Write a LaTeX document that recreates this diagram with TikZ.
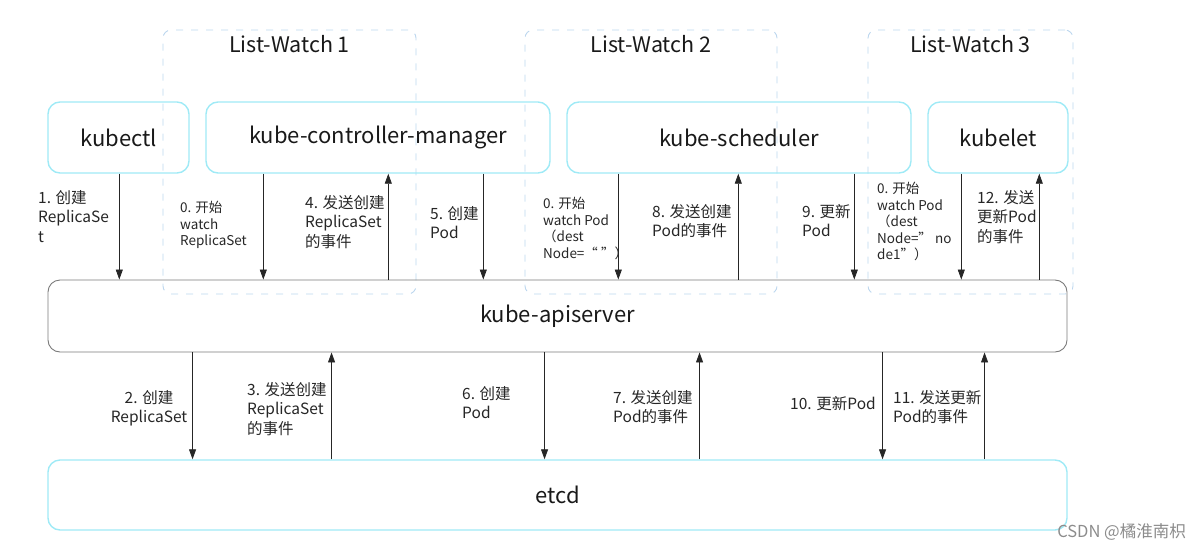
\documentclass[tikz,border=0pt]{standalone}
\usepackage{fontspec}
\setmainfont{Noto Sans CJK SC}
\usetikzlibrary{arrows.meta}
\definecolor{kcyan}{HTML}{9FEAF6}
\definecolor{kgray}{HTML}{7A7A7A}
\definecolor{kdash}{HTML}{BCD6EE}
\tikzset{
  comp/.style={draw=kcyan, line width=1.4pt, rounded corners=12pt,
    minimum height=71pt, font=\fontsize{22}{26}\selectfont, text=black!90},
  watchbox/.style={draw=kdash, line width=0.9pt, dash pattern=on 7pt off 8pt,
    rounded corners=8pt},
  wtitle/.style={font=\fontsize{21.5}{25}\selectfont, inner sep=0pt, text=black!90},
  flow/.style={draw=black!85, line width=0.8pt, -{Triangle[length=10pt,width=7pt]}},
  lbl/.style={align=left, anchor=north west, inner sep=0pt,
    font=\fontsize{15.5}{19.5}\selectfont, text=black!85},
  slbl/.style={align=left, anchor=north west, inner sep=0pt,
    font=\fontsize{13.5}{16.5}\selectfont, text=black!85}
}
\begin{document}
\begin{tikzpicture}[x=1pt,y=-1pt]
  \useasboundingbox (0,0) rectangle (1201,549);
  % list-watch groups
  \node[watchbox, minimum width=253pt, minimum height=264pt] (lw1) at (289.5,162) {};
  \node[watchbox, minimum width=252pt, minimum height=264pt] (lw2) at (651,162) {};
  \node[watchbox, minimum width=205pt, minimum height=264pt] (lw3) at (970.5,162) {};
  \node[wtitle] at ([yshift=-15pt]lw1.north) {List-Watch 1};
  \node[wtitle] at ([yshift=-15pt]lw2.north) {List-Watch 2};
  \node[wtitle] at ([yshift=-15pt]lw3.north) {List-Watch 3};
  % components
  \node[comp, minimum width=141pt] (kubectl) at (118.5,137.5) {kubectl};
  \node[comp, minimum width=344pt] (ctrl) at (378,137.5) {kube-controller-manager};
  \node[comp, minimum width=344pt] (sched) at (739,137.5) {kube-scheduler};
  \node[comp, minimum width=140pt] (kubelet) at (998,137.5) {kubelet};
  \node[comp, draw=kgray, line width=0.9pt, minimum width=1019pt, minimum height=72pt] (api) at (557.5,316) {kube-apiserver};
  \node[comp, minimum width=1019pt, minimum height=70pt] (etcd) at (557.5,495) {etcd};
  % components <-> apiserver
  \draw[flow] ([xshift=72pt]kubectl.south west) -- ([xshift=72pt]kubectl.south west |- api.north);
  \draw[flow] ([xshift=58pt]ctrl.south west) -- ([xshift=58pt]ctrl.south west |- api.north);
  \draw[flow] ([xshift=183pt]ctrl.south west |- api.north) -- ([xshift=183pt]ctrl.south west);
  \draw[flow] ([xshift=278pt]ctrl.south west) -- ([xshift=278pt]ctrl.south west |- api.north);
  \draw[flow] ([xshift=52pt]sched.south west) -- ([xshift=52pt]sched.south west |- api.north);
  \draw[flow] ([xshift=172pt]sched.south west |- api.north) -- ([xshift=172pt]sched.south west);
  \draw[flow] ([xshift=288pt]sched.south west) -- ([xshift=288pt]sched.south west |- api.north);
  \draw[flow] ([xshift=34pt]kubelet.south west) -- ([xshift=34pt]kubelet.south west |- api.north);
  \draw[flow] ([xshift=112pt]kubelet.south west |- api.north) -- ([xshift=112pt]kubelet.south west);
  % apiserver <-> etcd
  \draw[flow] ([xshift=145pt]api.south west) -- ([xshift=145pt]api.south west |- etcd.north);
  \draw[flow] ([xshift=284pt]api.south west |- etcd.north) -- ([xshift=284pt]api.south west);
  \draw[flow] ([xshift=497pt]api.south west) -- ([xshift=497pt]api.south west |- etcd.north);
  \draw[flow] ([xshift=652pt]api.south west |- etcd.north) -- ([xshift=652pt]api.south west);
  \draw[flow] ([xshift=835pt]api.south west) -- ([xshift=835pt]api.south west |- etcd.north);
  \draw[flow] ([xshift=937pt]api.south west |- etcd.north) -- ([xshift=937pt]api.south west);
  % labels
  \node[lbl] (l1) at (38,190) {1. 创建\\ReplicaSe\\t};
  \node[slbl] (l0a) at (180,201) {0. 开始\\watch\\ReplicaSet};
  \node[lbl] (l4) at (305,195) {4. 发送创建\\ReplicaSet\\的事件};
  \node[lbl] (l5) at (430,206) {5. 创建\\Pod};
  \node[slbl] (l0b) at (543,197) {0. 开始\\watch Pod\\（dest\\Node=“ ”）};
  \node[lbl] (l8) at (652,204) {8. 发送创建\\Pod的事件};
  \node[lbl] (l9) at (802,204) {9. 更新\\Pod};
  \node[slbl] (l0c) at (877,182) {0. 开始\\watch Pod\\（dest\\Node=” no\\de1”）};
  \node[lbl] (l12) at (977,190) {12. 发送\\更新Pod\\的事件};
  \node[lbl, align=center, anchor=north] (l2) at (149,390) {2. 创建\\ReplicaSet};
  \node[lbl] (l3) at (247,382) {3. 发送创建\\ReplicaSet\\的事件};
  \node[lbl] (l6) at (462,386) {6. 创建\\Pod};
  \node[lbl] (l7) at (613,390) {7. 发送创建\\Pod的事件};
  \node[lbl] (l10) at (790,396) {10. 更新Pod};
  \node[lbl] (l11) at (893,390) {11. 发送更新\\Pod的事件};
  \node[anchor=east, inner sep=0pt, text=black!45, font=\fontsize{16.5}{18}\selectfont] (mark) at (1186,532) {CSDN @橘淮南枳};
\end{tikzpicture}
\end{document}
